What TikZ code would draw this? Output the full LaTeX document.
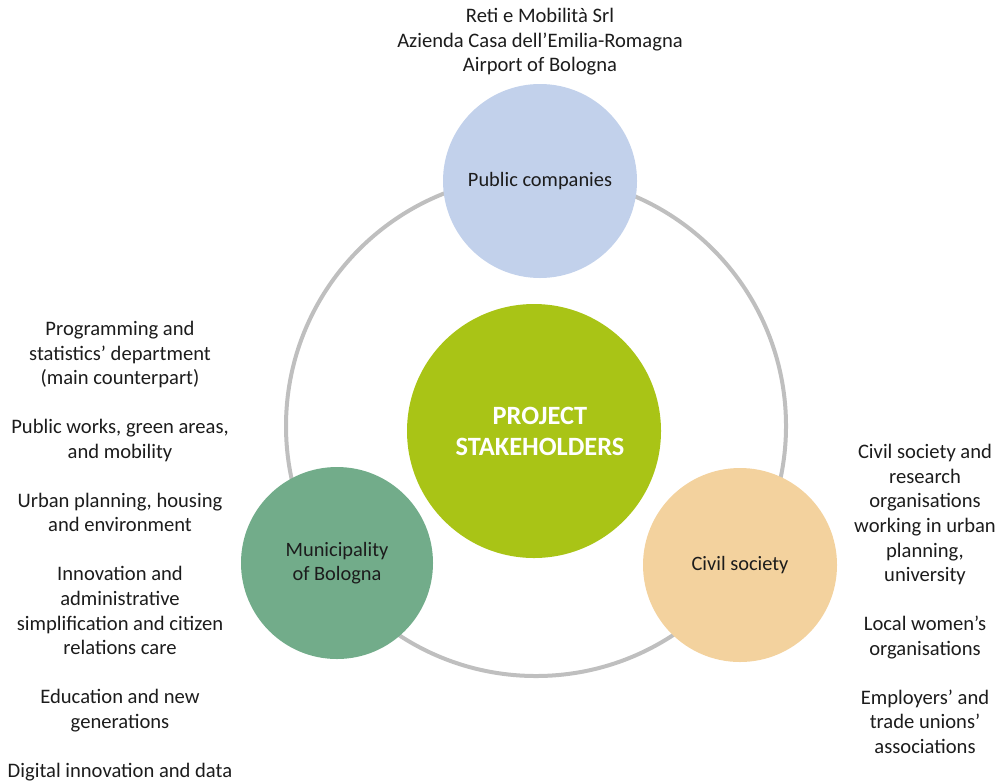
\documentclass[tikz,border=0pt]{standalone}
\usepackage{fontspec}
\setmainfont{Carlito}
\usepackage{xcolor}
\definecolor{pubblue}{HTML}{C2D1EB}
\definecolor{projgreen}{HTML}{A9C416}
\definecolor{munteal}{HTML}{72AC8A}
\definecolor{civorange}{HTML}{F3D29E}
\definecolor{ringgray}{HTML}{BFBFBF}
\definecolor{txt}{HTML}{1C1C1C}

\begin{document}
\begin{tikzpicture}[x=.5pt,y=-.5pt,
  disc/.style={circle,inner sep=0pt,align=center,text=txt,font=\fontsize{10.2}{12.2}\selectfont},
  note/.style={align=center,text=txt,font=\fontsize{10.3}{12.27}\selectfont}]
\useasboundingbox (0,0) rectangle (1004,782);
\node[circle,draw=ringgray,line width=2pt,minimum size=250pt] (ring) at (536,426) {};
\node[disc,fill=pubblue,minimum size=97pt] (pub) at (540,181) {Public companies};
\node[disc,fill=projgreen,minimum size=127pt,text=white,font=\bfseries\fontsize{13.2}{15.5}\selectfont] (proj) at (534,431) {\hspace*{6pt}PROJECT\\\hspace*{6pt}STAKEHOLDERS};
\node[disc,fill=munteal,minimum size=96pt] (mun) at (337,563) {Municipality\\of Bologna};
\node[disc,fill=civorange,minimum size=97pt] (civ) at (740,565) {Civil society};
\node[note] (pubnote) at (540,42) {Reti e Mobilità Srl\\Azienda Casa dell’Emilia-Romagna\\Airport of Bologna};
\node[note] (munnote) at (120,551) {Programming and\\statistics’ department\\(main counterpart)\\[\baselineskip]
  Public works, green areas,\\and mobility\\[\baselineskip]
  Urban planning, housing\\and environment\\[\baselineskip]
  Innovation and\\administrative\\simplification and citizen\\relations care\\[\baselineskip]
  Education and new\\generations\\[\baselineskip]
  Digital innovation and data};
\node[note] (civnote) at (925,599) {Civil society and\\research\\organisations\\working in urban\\planning,\\university\\[\baselineskip]
  Local women’s\\organisations\\[\baselineskip]
  Employers’ and\\trade unions’\\associations};
\end{tikzpicture}
\end{document}
